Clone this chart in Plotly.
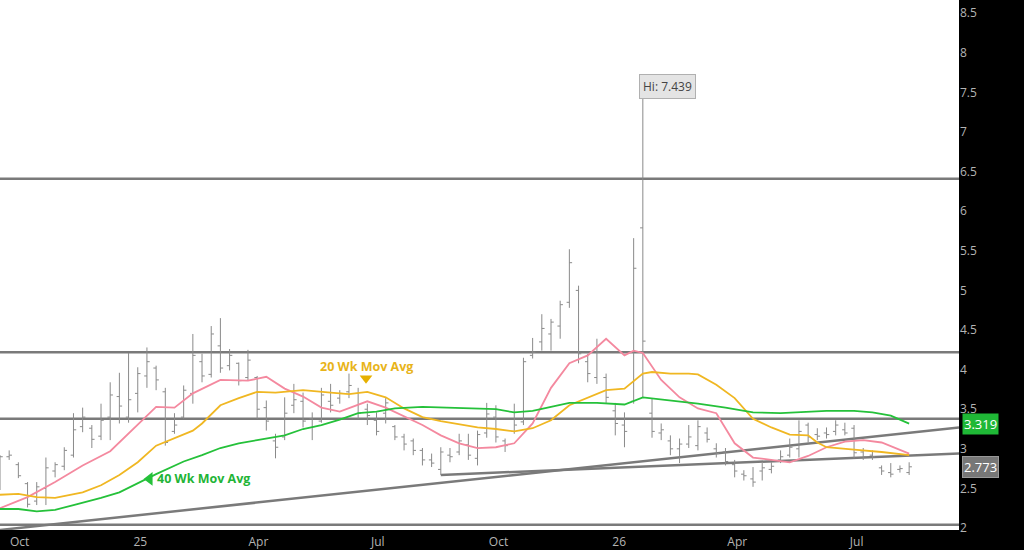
import pandas as pd
import plotly.graph_objects as go

# weekly bars, first bar week of 2024-09-16
dates = pd.date_range("2024-09-16", periods=100, freq="7D")

opens = [2.55, 2.90, 2.80, 2.56, 2.34, 2.50, 2.72, 2.78, 2.92, 3.28,
         3.26, 3.16, 3.40, 3.66, 3.40, 3.70, 3.92, 4.02, 3.72, 3.22,
         3.40, 3.70, 4.10, 3.94, 4.30, 4.05, 4.08, 3.90, 3.90, 3.52,
         3.10, 3.15, 3.55, 3.60, 3.38, 3.35, 3.60, 3.64, 3.72, 3.70,
         3.50, 3.36, 3.45, 3.28, 3.15, 3.10, 2.98, 2.86, 2.74, 2.92,
         2.96, 3.05, 2.88, 3.20, 3.40, 3.10, 3.22, 3.34, 4.18, 4.35,
         4.45, 4.55, 4.85, 5.00, 4.10, 3.90, 3.90, 3.48, 3.30, 3.60,
         5.79, 3.45, 3.20, 3.10, 3.00, 3.06, 3.04, 3.20, 3.00, 2.96,
         2.80, 2.68, 2.62, 2.72, 2.74, 2.86, 2.92, 3.00, 3.30, 3.18,
         3.20, 3.22, 3.24, 3.26, 2.96, 2.92, 2.76, 2.70, 2.74, 2.70]
highs = [2.92, 2.98, 2.83, 2.58, 2.58, 2.89, 2.83, 3.02, 3.45, 3.52,
         3.30, 3.57, 3.84, 3.96, 4.21, 4.03, 4.28, 4.05, 3.77, 3.45,
         3.80, 4.45, 4.20, 4.55, 4.65, 4.26, 4.09, 4.25, 3.92, 3.61,
         3.19, 3.65, 3.82, 3.71, 3.46, 3.77, 3.82, 3.74, 3.95, 3.77,
         3.57, 3.46, 3.64, 3.30, 3.19, 3.13, 3.01, 2.94, 3.02, 3.01,
         3.19, 3.19, 3.23, 3.58, 3.55, 3.13, 3.57, 4.15, 4.40, 4.70,
         4.64, 4.87, 5.52, 5.06, 4.20, 4.39, 3.95, 3.58, 3.46, 5.66,
         7.439, 3.64, 3.32, 3.17, 3.13, 3.30, 3.36, 3.27, 3.07, 3.01,
         2.86, 2.73, 2.77, 2.82, 2.83, 2.98, 3.13, 3.36, 3.33, 3.26,
         3.27, 3.36, 3.33, 3.30, 3.01, 2.98, 2.79, 2.82, 2.79, 2.83]
lows = [2.48, 2.86, 2.63, 2.26, 2.29, 2.29, 2.64, 2.73, 2.89, 3.21,
        3.01, 3.11, 3.11, 3.32, 3.33, 3.46, 3.77, 3.74, 3.04, 3.19,
        3.38, 3.57, 3.84, 3.90, 3.96, 3.99, 3.80, 3.86, 3.38, 3.23,
        2.88, 3.11, 3.45, 3.27, 3.11, 3.33, 3.46, 3.57, 3.64, 3.38,
        3.30, 3.17, 3.32, 3.11, 2.98, 2.92, 2.79, 2.77, 2.67, 2.83,
        2.92, 2.86, 2.79, 3.14, 3.08, 2.96, 3.19, 3.30, 4.14, 4.24,
        4.24, 4.39, 4.78, 4.08, 3.84, 3.82, 3.58, 3.17, 3.02, 3.57,
        3.64, 3.14, 3.11, 2.92, 2.82, 3.01, 2.98, 3.08, 2.89, 2.79,
        2.64, 2.60, 2.52, 2.60, 2.69, 2.82, 2.89, 2.89, 3.08, 3.11,
        3.13, 3.17, 3.17, 2.88, 2.86, 2.86, 2.67, 2.64, 2.70, 2.67]
closes = [2.90, 2.92, 2.66, 2.30, 2.52, 2.76, 2.80, 2.98, 3.24, 3.40,
          3.12, 3.36, 3.68, 3.54, 3.62, 3.95, 4.10, 3.87, 3.08, 3.30,
          3.74, 4.18, 3.92, 4.45, 4.02, 4.18, 3.86, 4.12, 3.50, 3.35,
          3.02, 3.45, 3.62, 3.35, 3.28, 3.68, 3.55, 3.70, 3.80, 3.45,
          3.42, 3.22, 3.58, 3.15, 3.06, 2.98, 2.86, 2.82, 2.96, 2.90,
          3.10, 2.92, 3.18, 3.44, 3.15, 3.04, 3.30, 4.10, 4.22, 4.52,
          4.60, 4.82, 5.35, 4.20, 3.95, 4.22, 3.65, 3.32, 3.22, 5.28,
          4.36, 3.22, 3.24, 3.00, 3.06, 3.15, 3.28, 3.12, 2.94, 2.84,
          2.72, 2.66, 2.58, 2.76, 2.78, 2.90, 3.02, 3.22, 3.15, 3.16,
          3.18, 3.30, 3.20, 2.95, 2.90, 2.90, 2.72, 2.68, 2.75, 2.773]

# moving averages (bar index -> value)
ma10_idx = [0, 3, 6, 9, 12, 15, 17, 19, 21, 24, 27, 29, 31, 33, 35, 37, 40, 42, 44, 46,
            48, 50, 52, 54, 56, 58, 60, 62, 64, 66, 68, 69, 70, 72, 74, 76, 78, 80, 82, 84,
            86, 88, 90, 92, 94, 96, 98, 99]
ma10 = [2.25, 2.39, 2.58, 2.79, 2.97, 3.30, 3.53, 3.52, 3.70, 3.87, 3.86, 3.91, 3.76, 3.66,
        3.52, 3.47, 3.60, 3.52, 3.41, 3.30, 3.17, 3.07, 3.01, 3.02, 3.07, 3.32, 3.77, 4.08,
        4.18, 4.39, 4.18, 4.24, 4.21, 3.87, 3.65, 3.51, 3.45, 3.07, 2.89, 2.86, 2.83, 2.91,
        3.02, 3.09, 3.11, 3.08, 2.98, 2.94]

ma20_idx = [0, 2, 4, 6, 9, 11, 13, 15, 17, 19, 21, 22, 24, 26, 28, 30, 33, 36, 38, 40,
            42, 44, 46, 48, 50, 52, 54, 56, 58, 60, 62, 64, 66, 68, 70, 71, 73, 75, 76, 78,
            80, 82, 84, 86, 88, 89, 90, 93, 96, 99]
ma20 = [2.42, 2.43, 2.39, 2.38, 2.45, 2.54, 2.67, 2.83, 3.04, 3.14, 3.23, 3.32, 3.55, 3.64,
        3.72, 3.71, 3.74, 3.71, 3.69, 3.72, 3.65, 3.51, 3.40, 3.35, 3.31, 3.27, 3.25, 3.22,
        3.26, 3.36, 3.55, 3.64, 3.74, 3.76, 3.95, 3.97, 3.95, 3.95, 3.94, 3.81, 3.64, 3.38,
        3.27, 3.18, 3.17, 3.08, 3.02, 2.99, 2.96, 2.92]

ma40_idx = [0, 2, 4, 6, 8, 11, 13, 15, 17, 20, 22, 24, 26, 28, 31, 33, 35, 37, 39, 41,
            43, 46, 49, 52, 54, 56, 58, 60, 62, 65, 67, 68, 70, 73, 76, 79, 82, 85, 87, 90,
            93, 95, 97, 99]
ma40 = [2.24, 2.24, 2.21, 2.23, 2.29, 2.38, 2.45, 2.57, 2.68, 2.84, 2.92, 3.01, 3.07, 3.11,
        3.17, 3.25, 3.30, 3.37, 3.45, 3.47, 3.51, 3.53, 3.52, 3.51, 3.50, 3.46, 3.48, 3.53,
        3.58, 3.58, 3.57, 3.56, 3.65, 3.61, 3.57, 3.52, 3.46, 3.45, 3.46, 3.48, 3.48, 3.46,
        3.42, 3.319]

# support / resistance levels and trend lines
levels = [6.41, 4.22, 3.38, 2.04]
x_start, x_end = "2024-09-16", "2026-09-17"
trend1 = [1.975, 3.27]     # from x_start to x_end
trend2 = [2.67, 2.94]      # from bar 48 low to x_end

tick_vals = ["2024-10-01", "2025-01-01", "2025-04-01", "2025-07-01",
             "2025-10-01", "2026-01-01", "2026-04-01", "2026-07-01"]
tick_text = ["Oct", "25", "Apr", "Jul", "Oct", "26", "Apr", "Jul"]

PINK = "#f4899f"
GOLD = "#f0b722"
GREEN = "#25c13a"

fig = go.Figure()

fig.add_trace(go.Ohlc(x=dates, open=opens, high=highs, low=lows, close=closes,
                      increasing_line_color="#8a8a8a", decreasing_line_color="#8a8a8a",
                      line_width=1, tickwidth=0.3, showlegend=False, hoverinfo="skip"))

fig.add_trace(go.Scatter(x=dates[ma10_idx], y=ma10, mode="lines",
                         line=dict(color=PINK, width=1.8), showlegend=False))
fig.add_trace(go.Scatter(x=dates[ma20_idx], y=ma20, mode="lines",
                         line=dict(color=GOLD, width=1.8), showlegend=False))
fig.add_trace(go.Scatter(x=dates[ma40_idx], y=ma40, mode="lines",
                         line=dict(color=GREEN, width=1.8), showlegend=False))

# label markers for the MAs
fig.add_trace(go.Scatter(x=["2025-06-22"], y=[3.89], mode="markers",
                         marker=dict(symbol="triangle-down", size=11, color="#e6b000"),
                         showlegend=False))
fig.add_trace(go.Scatter(x=["2025-01-08"], y=[2.62], mode="markers",
                         marker=dict(symbol="triangle-left", size=12, color=GREEN),
                         showlegend=False))

for lv in levels:
    fig.add_shape(type="line", xref="paper", x0=0, x1=1, y0=lv, y1=lv,
                  line=dict(color="#7a7a7a", width=2.5), layer="below")
fig.add_shape(type="line", x0=x_start, x1=x_end, y0=trend1[0], y1=trend1[1],
              line=dict(color="#7a7a7a", width=2.5), layer="below")
fig.add_shape(type="line", x0=dates[48], x1=x_end, y0=trend2[0], y1=trend2[1],
              line=dict(color="#7a7a7a", width=2.5), layer="below")

fig.add_annotation(x=dates[70], y=7.439, text="Hi: 7.439", showarrow=True, arrowhead=0,
                   arrowcolor="#999", arrowwidth=1, ax=25, ay=-11,
                   bgcolor="#e4e4e4", bordercolor="#b0b0b0", borderwidth=1, borderpad=3,
                   font=dict(size=12, color="#444"))
fig.add_annotation(x="2025-06-22", y=4.04, text="<b>20 Wk Mov Avg</b>", showarrow=False,
                   font=dict(size=12.5, color="#e8b41a"))
fig.add_annotation(x="2025-01-12", y=2.62, text="<b>40 Wk Mov Avg</b>", showarrow=False,
                   xanchor="left", font=dict(size=12.5, color="#22b436"))

# last value tags on the price axis
fig.add_annotation(xref="paper", x=1.003, xanchor="left", y=ma40[-1], text=f"{ma40[-1]:.3f}",
                   showarrow=False, bgcolor="#1fb836", font=dict(size=13, color="white"),
                   borderpad=1)
fig.add_annotation(xref="paper", x=1.003, xanchor="left", y=closes[-1], text=f"{closes[-1]:.3f}",
                   showarrow=False, bgcolor="#777777", bordercolor="#999", borderwidth=1,
                   font=dict(size=13, color="white"), borderpad=1)

fig.update_layout(
    width=1024, height=550,
    margin=dict(l=0, r=65, t=0, b=20),
    paper_bgcolor="black", plot_bgcolor="white",
    font=dict(family="Open Sans", size=12, color="#b4b4b4"),
    xaxis=dict(range=[x_start, x_end], rangeslider=dict(visible=False), showgrid=False,
               zeroline=False, tickvals=tick_vals, ticktext=tick_text, ticks="",
               ticklabelstandoff=3, tickfont=dict(size=12, color="#b4b4b4"),
               automargin=False),
    yaxis=dict(range=[1.975, 8.667], side="right", dtick=0.5, tick0=2, showgrid=False,
               zeroline=False, ticks="", tickfont=dict(size=12, color="#b4b4b4"),
               automargin=False),
    hovermode=False,
)

# drop the default page margin so the figure sits at the window corner
fig.write_html("out.html", config={"displayModeBar": False},
               post_script="document.body.style.margin='0';")
